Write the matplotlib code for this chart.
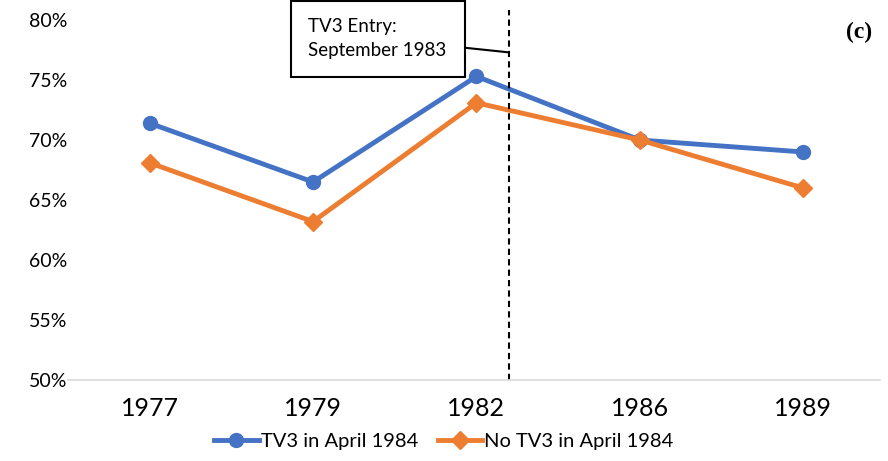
import matplotlib.pyplot as plt
from matplotlib.ticker import FuncFormatter

years = ["1977", "1979", "1982", "1986", "1989"]
tv3 = [71.4, 66.5, 75.3, 70.0, 69.0]
no_tv3 = [68.1, 63.2, 73.1, 70.0, 66.0]
entry_pos = 2.2

plt.rcParams['font.family'] = ['Lato', 'DejaVu Sans']

fig = plt.figure(figsize=(8.88, 4.61), dpi=100)
ax = fig.add_axes([68 / 888, 1 - 380 / 461, 812 / 888, 360 / 461])

x = list(range(len(years)))
ax.plot(x, tv3, color="#4472C4", lw=3.5, marker="o", ms=10, label="TV3 in April 1984")
ax.plot(x, no_tv3, color="#ED7D31", lw=3.5, marker="D", ms=9, label="No TV3 in April 1984")

ax.axvline(entry_pos, ymax=1.028, color="black", ls=(0, (3, 2)), lw=1.5, clip_on=False)

ax.set_xlim(-0.5, 4.47)
ax.set_ylim(50, 80)
ax.set_yticks(range(50, 81, 5))
ax.yaxis.set_major_formatter(FuncFormatter(lambda v, p: f"{v:.0f}%"))
ax.set_xticks(x)
ax.set_xticklabels(years, fontsize=18)
ax.tick_params(axis="y", labelsize=14, length=0, pad=28)
ax.tick_params(axis="x", length=0, pad=12)
for lab in ax.get_yticklabels():
    lab.set_horizontalalignment("left")
for s in ["top", "right", "left"]:
    ax.spines[s].set_visible(False)
ax.spines["bottom"].set_color("#D9D9D9")
ax.spines["bottom"].set_linewidth(1.2)

# entry annotation box with connector to the dashed line
ax.annotate("TV3 Entry:\nSeptember 1983", xy=(entry_pos, 77.3), xytext=(1.395, 78.45),
            fontsize=13.5, ha="center", va="center", linespacing=1.45, multialignment="left",
            bbox=dict(boxstyle="square,pad=0.95", fc="white", ec="black", lw=1.5),
            arrowprops=dict(arrowstyle="-", color="black", lw=1.5, shrinkA=0, shrinkB=0))

ax.text(4.42, 79.0, "(c)", fontsize=17, fontweight="bold", family="Liberation Serif",
        ha="right", va="center")

fig.legend(loc="lower center", bbox_to_anchor=(0.5, -0.015), ncol=2, frameon=False,
           fontsize=14.5, handlelength=2.2, handletextpad=0.1, columnspacing=1.0)

fig.savefig("out.png", dpi=100)
